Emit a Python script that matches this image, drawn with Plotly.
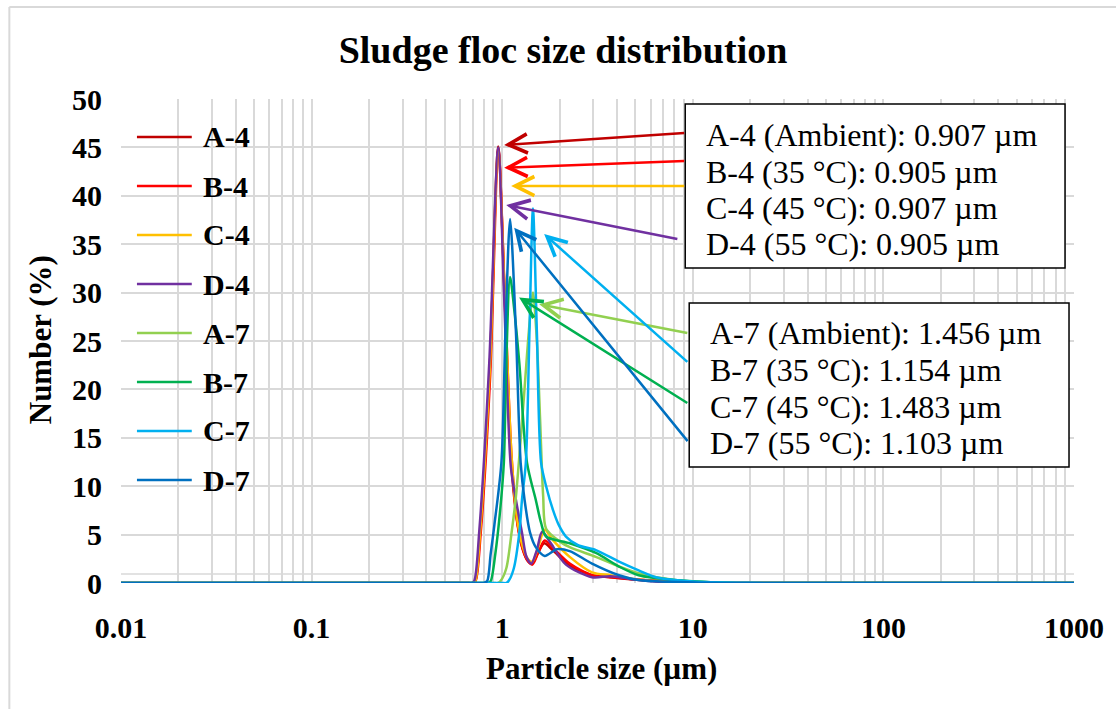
import math
import plotly.graph_objects as go

# ---------------- data ----------------
series_names = ["A-4", "B-4", "C-4", "D-4", "A-7", "B-7", "C-7", "D-7"]
series_colors = ["#C00000", "#FF0000", "#FFC000", "#7030A0",
                 "#92D050", "#00B050", "#00B0F0", "#0070C0"]

a4_x = [0.01, 0.1, 0.5, 0.66, 0.70, 0.722, 0.765, 0.86, 0.953, 1.028, 1.115, 1.19, 1.27, 1.35, 1.43, 1.54, 1.66, 1.84, 2.22, 2.96, 3.7, 5.4, 9.0, 15, 50, 200, 1000]
a4_y = [0, 0, 0, 0, 0, 0.2, 5.2, 22.0, 45.1, 30.0, 12.5, 6.8, 3.8, 2.4, 2.0, 3.1, 4.1, 3.4, 1.9, 0.8, 0.6, 0.3, 0.05, 0, 0, 0, 0]
b4_x = [0.01, 0.1, 0.5, 0.66, 0.70, 0.725, 0.77, 0.865, 0.955, 1.03, 1.12, 1.20, 1.28, 1.36, 1.44, 1.55, 1.67, 1.85, 2.26, 2.96, 3.7, 5.5, 10, 16, 50, 200, 1000]
b4_y = [0, 0, 0, 0, 0, 0.2, 5.0, 21.5, 44.8, 30.0, 13.0, 6.2, 3.5, 2.3, 1.9, 3.2, 4.4, 3.6, 2.0, 0.8, 0.6, 0.3, 0.05, 0, 0, 0, 0]
c4_x = [0.01, 0.1, 0.5, 0.66, 0.70, 0.722, 0.765, 0.86, 0.953, 1.03, 1.12, 1.20, 1.28, 1.36, 1.44, 1.55, 1.67, 1.85, 2.26, 2.96, 3.7, 5.5, 10, 16, 50, 200, 1000]
c4_y = [0, 0, 0, 0, 0, 0.2, 5.2, 22.0, 44.6, 30.0, 13.0, 6.5, 3.8, 2.5, 2.2, 3.8, 5.5, 4.4, 2.7, 1.1, 0.8, 0.3, 0.05, 0, 0, 0, 0]
d4_x = [0.01, 0.1, 0.5, 0.65, 0.69, 0.713, 0.759, 0.855, 0.953, 1.024, 1.11, 1.18, 1.27, 1.34, 1.42, 1.52, 1.62, 1.80, 2.16, 2.96, 3.7, 5.2, 8.0, 14, 50, 200, 1000]
d4_y = [0, 0, 0, 0, 0, 0.2, 5.5, 22.7, 45.0, 29.5, 12.0, 8.6, 5.2, 2.7, 2.0, 3.4, 5.3, 4.1, 1.9, 0.6, 0.7, 0.3, 0.05, 0, 0, 0, 0]

a7_x = [0.01, 0.1, 0.6, 0.9, 0.95, 0.98, 1.05, 1.12, 1.18, 1.30, 1.38, 1.45, 1.52, 1.58, 1.64, 1.70, 2.0, 2.26, 3.1, 4.1, 5.2, 8.0, 15, 25, 80, 300, 1000]
a7_y = [0, 0, 0, 0, 0, 0.2, 1.5, 5.2, 8.9, 19.2, 26.0, 30.0, 25.0, 17.0, 9.0, 5.6, 4.3, 3.7, 2.7, 1.7, 1.0, 0.3, 0.02, 0, 0, 0, 0]
b7_x = [0.01, 0.1, 0.5, 0.78, 0.84, 0.87, 0.92, 0.97, 1.02, 1.05, 1.10, 1.16, 1.23, 1.35, 1.50, 1.60, 1.70, 2.26, 3.1, 4.1, 5.2, 8.0, 15, 25, 80, 300, 1000]
b7_y = [0, 0, 0, 0, 0, 0.2, 3.0, 7.0, 12.4, 22.7, 31.6, 28.0, 22.7, 12.4, 8.6, 6.2, 4.8, 4.1, 3.1, 1.7, 0.8, 0.3, 0.02, 0, 0, 0, 0]
c7_x = [0.01, 0.1, 0.6, 1.0, 1.05, 1.08, 1.15, 1.23, 1.27, 1.33, 1.39, 1.45, 1.52, 1.60, 1.70, 1.85, 1.98, 2.16, 2.5, 3.1, 4.1, 5.2, 6.4, 10, 20, 35, 100, 300, 1000]
c7_y = [0, 0, 0, 0, 0, 0.2, 1.5, 5.2, 8.6, 12.4, 26.0, 38.7, 26.0, 12.4, 10.0, 7.5, 6.0, 4.8, 3.9, 3.4, 2.2, 1.3, 0.6, 0.15, 0.02, 0, 0, 0, 0]
d7_x = [0.01, 0.1, 0.5, 0.77, 0.80, 0.834, 0.87, 0.91, 0.99, 1.04, 1.10, 1.18, 1.25, 1.31, 1.40, 1.50, 1.67, 1.94, 2.26, 2.96, 4.1, 5.2, 12, 25, 80, 300, 1000]
d7_y = [0, 0, 0, 0, 0, 0.2, 3.0, 6.0, 12.4, 26.0, 37.6, 26.0, 12.4, 8.6, 5.2, 3.7, 2.8, 3.5, 3.3, 2.0, 0.8, 0.3, 0.02, 0, 0, 0, 0]

series_x = [a4_x, b4_x, c4_x, d4_x, a7_x, b7_x, c7_x, d7_x]
series_y = [a4_y, b4_y, c4_y, d4_y, a7_y, b7_y, c7_y, d7_y]

x_tick_vals = [0.01, 0.1, 1, 10, 100, 1000]
x_tick_text = ["0.01", "0.1", "1", "10", "100", "1000"]

box4_lines = ["A-4 (Ambient): 0.907 µm", "B-4 (35 °C): 0.905 µm",
              "C-4 (45 °C): 0.907 µm", "D-4 (55 °C): 0.905 µm"]
box7_lines = ["A-7 (Ambient): 1.456 µm", "B-7 (35 °C): 1.154 µm",
              "C-7 (45 °C): 1.483 µm", "D-7 (55 °C): 1.103 µm"]

# arrow heads / tails in data units (µm, %)
arrow_heads = [(1.024, 45.25), (1.024, 42.9), (1.114, 41.0), (1.05, 39.05),
               (1.563, 28.8), (1.227, 29.5), (1.66, 36.05), (1.156, 36.7)]
arrow_tails = [(9.18, 46.5), (9.18, 43.6), (9.18, 41.0), (8.45, 35.5),
               (9.53, 25.8), (9.53, 18.5), (9.53, 22.7), (9.53, 14.5)]

# ---------------- layout geometry ----------------
W, H = 1116, 709
PL, PR, PT, PB = 121, 1077, 99, 583
SERIF = "Liberation Serif, Times New Roman, serif"
GRID = "#D9D9D9"


def px2paper_x(px):
    return (px - PL) / (PR - PL)


def py2paper_y(py):
    return (PB - py) / (PB - PT)


fig = go.Figure()
for name, color, xs, ys in zip(series_names, series_colors, series_x, series_y):
    fig.add_trace(go.Scatter(x=xs, y=ys, mode="lines", name=name,
                             line=dict(color=color, width=2.5, shape="spline", smoothing=0.8),
                             showlegend=False, hoverinfo="skip"))

minor_vals = [m * 10 ** e for e in range(-2, 3) for m in range(2, 10)]

fig.update_layout(
    width=W, height=H,
    margin=dict(l=PL, r=W - PR, t=PT, b=H - PB, pad=0),
    paper_bgcolor="white", plot_bgcolor="white",
    font=dict(family=SERIF, color="black"),
    title=dict(text="<b>Sludge floc size distribution</b>", x=563 / W, xref="container",
               xanchor="center", y=1 - 50 / H, yref="container", yanchor="middle",
               font=dict(size=38, family=SERIF, color="black")),
    xaxis=dict(type="log", range=[-2, 3], tickvals=x_tick_vals, ticktext=x_tick_text,
               showgrid=True, gridcolor=GRID, gridwidth=1.5, zeroline=False,
               showline=False, ticks="", ticklabelstandoff=24,
               tickfont=dict(size=30, family=SERIF, color="black", weight="bold"),
               minor=dict(tickmode="array", tickvals=minor_vals, showgrid=True,
                          gridcolor=GRID, gridwidth=1.5, ticks="")),
    yaxis=dict(range=[0, 50], dtick=5, showgrid=True, gridcolor=GRID, gridwidth=1.5,
               zeroline=False, showline=False, ticks="", ticklabelstandoff=18,
               tickfont=dict(size=30, family=SERIF, color="black", weight="bold")),
)

shapes = []
annotations = []

# chart border (left and top visible)
shapes.append(dict(type="line", xref="paper", yref="paper",
                   x0=px2paper_x(9), x1=px2paper_x(9), y0=py2paper_y(7), y1=py2paper_y(H + 5),
                   line=dict(color=GRID, width=2)))
shapes.append(dict(type="line", xref="paper", yref="paper",
                   x0=px2paper_x(9), x1=px2paper_x(W + 5), y0=py2paper_y(7), y1=py2paper_y(7),
                   line=dict(color=GRID, width=2)))
# secondary horizontal line just above the baseline
shapes.append(dict(type="line", xref="paper", yref="y", x0=0, x1=1, y0=0.93, y1=0.93,
                   line=dict(color=GRID, width=1.5), layer="below"))

# legend (manual)
for i, (name, color) in enumerate(zip(series_names, series_colors)):
    yy = py2paper_y(137 + 49 * i)
    shapes.append(dict(type="line", xref="paper", yref="paper",
                       x0=px2paper_x(137), x1=px2paper_x(192), y0=yy, y1=yy,
                       line=dict(color=color, width=2.5)))
    annotations.append(dict(xref="paper", yref="paper", x=px2paper_x(201), y=yy,
                            text="<b>%s</b>" % name, showarrow=False, xanchor="left",
                            yanchor="middle", font=dict(size=30, family=SERIF, color="black")))

# boxes
for (x0, y0, x1, y1) in [(687, 104, 1068, 268), (691, 303, 1072, 467)]:
    shapes.append(dict(type="rect", xref="paper", yref="paper",
                       x0=px2paper_x(x0), x1=px2paper_x(x1), y0=py2paper_y(y0), y1=py2paper_y(y1),
                       line=dict(color="black", width=1.5), fillcolor="white", layer="above"))

for lines, left, ys in [(box4_lines, 706, [135, 172, 208, 244]),
                        (box7_lines, 710, [333, 370, 407, 443])]:
    for txt, yy in zip(lines, ys):
        annotations.append(dict(xref="paper", yref="paper", x=px2paper_x(left), y=py2paper_y(yy),
                                text=txt, showarrow=False, xanchor="left", yanchor="middle",
                                font=dict(size=32, family=SERIF, color="black")))

# arrows
for (hx, hy), (tx, ty), color in zip(arrow_heads, arrow_tails, series_colors):
    annotations.append(dict(x=math.log10(hx), y=hy, ax=math.log10(tx), ay=ty,
                            xref="x", yref="y", axref="x", ayref="y", text="",
                            showarrow=True, arrowhead=5, arrowsize=1.5, arrowwidth=2.5,
                            arrowcolor=color, standoff=0))

# axis titles
annotations.append(dict(xref="paper", yref="paper", x=px2paper_x(603), y=py2paper_y(668),
                        text="<b>Particle size (µm)</b>", showarrow=False,
                        xanchor="center", yanchor="middle",
                        font=dict(size=31, family=SERIF, color="black")))
annotations.append(dict(xref="paper", yref="paper", x=px2paper_x(40), y=py2paper_y(340),
                        text="<b>Number (%)</b>", showarrow=False, textangle=-90,
                        xanchor="center", yanchor="middle",
                        font=dict(size=31, family=SERIF, color="black")))

fig.update_layout(shapes=shapes, annotations=annotations)
fig.write_html("out.html")
